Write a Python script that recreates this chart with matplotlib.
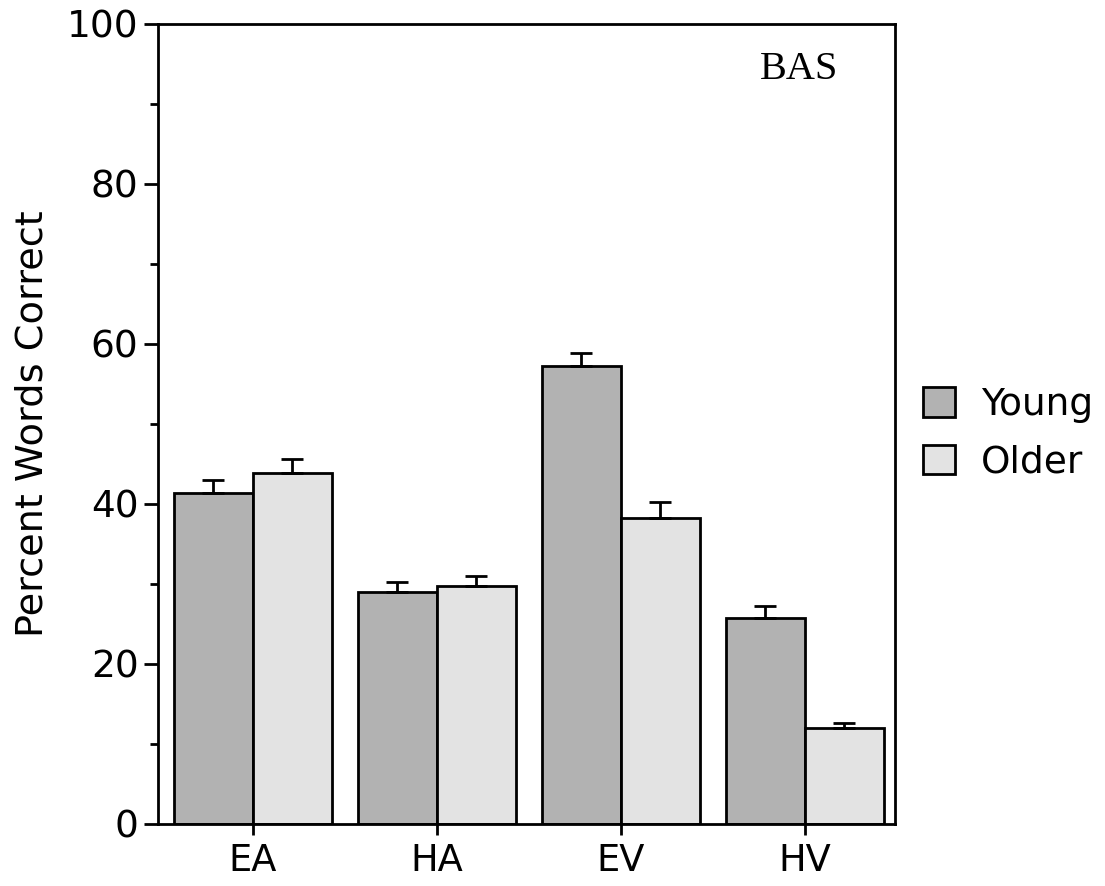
import numpy as np
import matplotlib.pyplot as plt
from matplotlib.ticker import MultipleLocator

# data
conditions = ["EA", "HA", "EV", "HV"]
young = [41.4, 29.0, 57.3, 25.7]
older = [43.9, 29.7, 38.3, 12.0]
young_err = [1.6, 1.3, 1.6, 1.6]
older_err = [1.7, 1.3, 2.0, 0.6]

YOUNG_COLOR = "#b2b2b2"
OLDER_COLOR = "#e3e3e3"

plt.rcParams["font.family"] = ["DejaVu Sans"]

fig = plt.figure(figsize=(11.05, 8.86), dpi=100)
ax = fig.add_axes([158 / 1105, 62 / 886, 737 / 1105, 800 / 886])

x = np.arange(len(conditions))
w = 0.43
err_kw = dict(ecolor="black", elinewidth=2.0, capsize=8, capthick=2.0)

ax.bar(x - w / 2, young, w, color=YOUNG_COLOR, edgecolor="black", linewidth=2.0,
       yerr=[np.zeros(len(young)), young_err], error_kw=err_kw, label="Young", zorder=2)
ax.bar(x + w / 2, older, w, color=OLDER_COLOR, edgecolor="black", linewidth=2.0,
       yerr=[np.zeros(len(older)), older_err], error_kw=err_kw, label="Older", zorder=2)

ax.set_xlim(-0.515, 3.49)
ax.set_ylim(0, 100)
ax.set_xticks(x)
ax.set_xticklabels(conditions, fontsize=26.5)
ax.yaxis.set_major_locator(MultipleLocator(20))
ax.yaxis.set_minor_locator(MultipleLocator(10))
ax.tick_params(axis="y", which="major", direction="out", length=10, width=2, labelsize=27, pad=4)
ax.tick_params(axis="y", which="minor", direction="out", length=6, width=2)
ax.tick_params(axis="x", which="major", direction="out", length=8, width=2, pad=5)

for s in ax.spines.values():
    s.set_linewidth(2.0)

ax.set_ylabel("Percent Words Correct", fontsize=27.5, labelpad=12)

ax.text(0.87, 0.966, "BAS", transform=ax.transAxes, ha="center", va="top",
        fontsize=29, family="Liberation Serif")

ax.legend(loc="upper left", bbox_to_anchor=(904 / 1105, 1 - 368 / 886),
          bbox_transform=fig.transFigure, frameon=False, fontsize=27,
          handlelength=0.85, handleheight=0.85, handletextpad=0.7,
          labelspacing=0.58, borderpad=0)

fig.savefig("out.png", dpi=100)
